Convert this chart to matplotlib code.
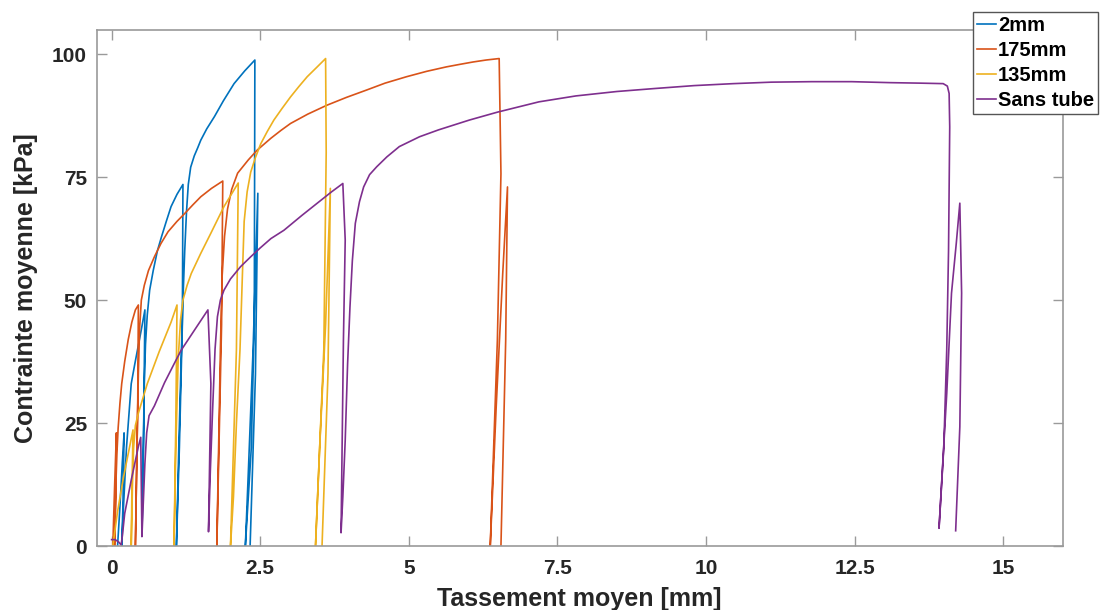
import numpy as np
import matplotlib
matplotlib.use('Agg')
import matplotlib.pyplot as plt

plt.rcParams['font.family'] = ['Liberation Sans', 'DejaVu Sans']
plt.rcParams['font.weight'] = 'bold'

# tassement moyen [mm] / contrainte moyenne [kPa]
x_2mm = [0.10, 0.14, 0.18, 0.21, 0.19, 0.17,
         0.20, 0.25, 0.33, 0.39, 0.50, 0.56,
         0.54, 0.51,
         0.53, 0.55, 0.57, 0.60, 0.64, 0.70, 0.77, 0.84, 0.92, 1.00, 1.10, 1.20,
         1.19, 1.14, 1.09,
         1.13, 1.17, 1.20, 1.23, 1.26, 1.29, 1.33, 1.39, 1.45, 1.50, 1.60, 1.73, 1.88, 2.06, 2.24, 2.41,
         2.40, 2.35, 2.25,
         2.30, 2.38, 2.46, 2.42, 2.33]
y_2mm = [0.0, 8.0, 17.0, 23.0, 8.0, 0.0,
         8.0, 20.0, 33.0, 37.0, 44.0, 48.0,
         25.0, 2.0,
         15.0, 33.0, 41.0, 47.0, 52.0, 56.0, 60.0, 62.9, 66.0, 69.0, 71.5, 73.5,
         45.0, 20.0, 0.0,
         20.0, 38.0, 50.0, 60.0, 68.0, 73.5, 77.0, 79.3, 81.0, 82.5, 84.8, 87.3, 90.5, 94.0, 96.6, 98.8,
         45.0, 20.0, 0.0,
         15.0, 40.0, 71.7, 35.0, 0.0]

x_175mm = [0.02, 0.05, 0.08, 0.07, 0.05,
           0.07, 0.09, 0.11, 0.14, 0.17, 0.22, 0.28, 0.34, 0.40, 0.45,
           0.44, 0.40,
           0.42, 0.45, 0.47, 0.50, 0.55, 0.62, 0.72, 0.83, 0.95, 1.10, 1.23, 1.37, 1.50, 1.68, 1.87,
           1.85, 1.77,
           1.80, 1.83, 1.86, 1.90, 1.95, 2.02, 2.12, 2.30, 2.45, 2.68, 2.85, 3.01, 3.30, 3.62,
           3.95, 4.29, 4.60, 4.96, 5.30, 5.63, 5.85, 6.08, 6.30, 6.52,
           6.55, 6.49, 6.37,
           6.47, 6.58, 6.66,
           6.63, 6.55]
y_175mm = [0.0, 12.0, 23.0, 10.0, 0.0,
           12.0, 19.0, 24.0, 29.0, 33.0, 37.5, 42.0, 45.5, 48.0, 49.0,
           30.0, 0.0,
           15.0, 35.0, 44.0, 50.0, 53.0, 56.0, 58.8, 61.5, 63.9, 66.0, 67.6, 69.4, 71.0, 72.7, 74.2,
           45.0, 0.0,
           20.0, 40.0, 55.0, 63.0, 68.5, 72.5, 75.8, 78.5, 80.5, 82.9, 84.5, 85.9, 87.8, 89.6,
           91.2, 92.7, 94.1, 95.4, 96.5, 97.4, 97.9, 98.4, 98.8, 99.1,
           75.7, 41.9, 0.0,
           28.3, 55.4, 73.0,
           41.9, 0.0]

x_135mm = [0.02, 0.10, 0.20, 0.30, 0.36, 0.34, 0.33,
           0.35, 0.37, 0.40, 0.45, 0.60, 0.80, 1.00, 1.10,
           1.08, 1.05,
           1.08, 1.12, 1.16, 1.20, 1.27, 1.34, 1.50, 1.67, 1.89, 2.13,
           2.10, 2.00,
           2.05, 2.10, 2.16, 2.20, 2.23, 2.28, 2.34, 2.42, 2.51, 2.62, 2.73, 2.87, 3.01, 3.15, 3.29, 3.45, 3.60,
           3.61, 3.57, 3.43,
           3.50, 3.60, 3.68, 3.64, 3.54]
y_135mm = [0.0, 7.0, 14.0, 20.0, 23.6, 10.0, 0.0,
           12.0, 20.0, 24.5, 27.0, 33.0, 39.5, 45.5, 49.0,
           25.0, 0.0,
           20.0, 38.0, 46.0, 50.0, 53.0, 55.4, 59.5, 63.6, 69.0, 73.8,
           40.0, 0.0,
           10.0, 25.0, 40.0, 55.0, 66.0, 72.0, 76.0, 79.0, 81.8, 84.3, 86.6, 89.0, 91.3, 93.4, 95.4, 97.3, 99.1,
           80.0, 40.0, 0.0,
           20.0, 45.0, 72.7, 35.0, 0.0]

x_sans = [0.00, 0.06, 0.12, 0.16,
          0.18, 0.22, 0.33, 0.45, 0.49,
          0.50, 0.51,
          0.53, 0.56, 0.59, 0.63, 0.72, 0.89, 1.05, 1.17, 1.40, 1.62,
          1.67, 1.63,
          1.66, 1.70, 1.74, 1.78, 1.83, 1.89, 2.00, 2.17, 2.34, 2.50, 2.68, 2.90, 3.20, 3.46, 3.70, 3.89,
          3.93, 3.90, 3.86,
          3.89, 3.93, 3.97, 4.01, 4.05, 4.10, 4.17, 4.24, 4.34, 4.46, 4.63, 4.84, 5.18, 5.50, 6.02, 6.49, 7.19,
          7.81, 8.50, 9.13, 9.80, 10.46, 11.10, 11.78, 12.45, 13.10, 13.60, 13.99, 14.06, 14.09,
          14.10, 14.08, 14.05, 14.00, 13.92,
          14.05, 14.13, 14.21, 14.27,
          14.30, 14.27, 14.20]
y_sans = [1.3, 1.3, 0.8, 0.2,
          2.0, 6.6, 13.4, 20.2, 22.1,
          12.0, 1.9,
          8.0, 16.8, 23.0, 26.5, 28.5, 33.2, 37.0, 39.8, 44.0, 48.0,
          33.0, 2.9,
          15.0, 28.0, 40.0, 46.6, 50.0, 52.0, 54.3, 56.8, 58.8, 60.6, 62.5, 64.2, 67.2, 69.7, 72.0, 73.7,
          62.2, 41.9, 2.7,
          10.0, 21.5, 37.0, 48.6, 58.0, 65.6, 70.0, 73.0, 75.5, 77.1, 79.1, 81.2, 83.2, 84.6, 86.6, 88.2, 90.3,
          91.5, 92.4, 93.0, 93.6, 94.0, 94.3, 94.4, 94.4, 94.2, 94.1, 94.0, 93.5, 92.0,
          85.2, 60.0, 40.0, 20.0, 3.6,
          31.0, 51.4, 61.5, 69.7,
          51.4, 24.2, 3.1]

series = [('2mm', x_2mm, y_2mm, '#0072BD'),
          ('175mm', x_175mm, y_175mm, '#D95319'),
          ('135mm', x_135mm, y_135mm, '#EDB120'),
          ('Sans tube', x_sans, y_sans, '#7E2F8E')]

xticks = [0, 2.5, 5, 7.5, 10, 12.5, 15]
xticklabels = ['0', '2.5', '5', '7.5', '10', '12.5', '15']
yticks = [0, 25, 50, 75, 100]

fig = plt.figure(figsize=(11.02, 6.10), dpi=100)
ax = fig.add_axes([0.0878, 0.1049, 0.8765, 0.8467])

for name, xs, ys, c in series:
    ax.plot(xs, ys, color=c, linewidth=1.2, label=name)

ax.set_xlim(-0.25, 16)
ax.set_ylim(0, 105)
ax.set_xticks(xticks)
ax.set_xticklabels(xticklabels)
ax.set_yticks(yticks)

for s in ax.spines.values():
    s.set_color('#9a9a9a')
    s.set_linewidth(1.2)
ax.tick_params(direction='in', length=7, width=1.0, color='#9a9a9a',
               labelsize=15, labelcolor='#262626', top=True, right=True)
ax.tick_params(axis='x', pad=9)
ax.tick_params(axis='y', pad=7)

ax.set_xlabel('Tassement moyen [mm]', fontsize=18, fontweight='bold', color='#262626', labelpad=7)
ax.set_ylabel('Contrainte moyenne [kPa]', fontsize=18, fontweight='bold', color='#262626', labelpad=10)

leg = ax.legend(loc='upper right', bbox_to_anchor=(0.9964, 0.981), bbox_transform=fig.transFigure,
                fontsize=14.5, frameon=True, fancybox=False, framealpha=1,
                handlelength=0.95, handletextpad=0.1, borderpad=0.2, labelspacing=0.3,
                borderaxespad=0)
leg.get_frame().set_edgecolor('#555555')
leg.get_frame().set_linewidth(1.0)
for t in leg.get_texts():
    t.set_fontweight('bold')

fig.savefig('out.png', dpi=100)
